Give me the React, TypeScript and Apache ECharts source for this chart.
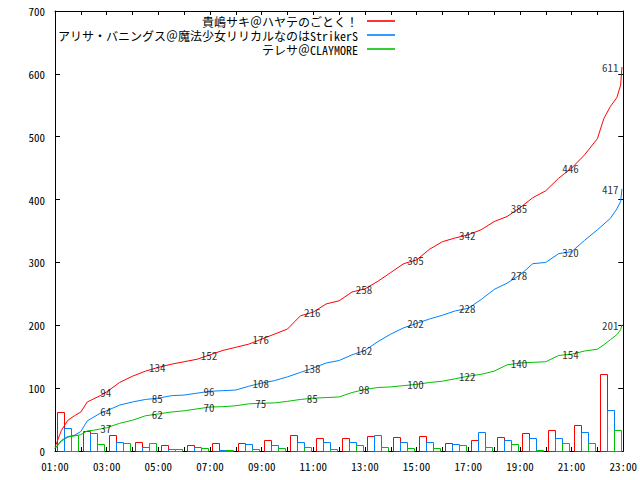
import React, { useEffect, useRef } from "react";
import * as echarts from "echarts";

// ---- data ----
const seriesNames = [
  "貴嶋サキ＠ハヤテのごとく！",
  "アリサ・バニングス＠魔法少女リリカルなのはStrikerS",
  "テレサ＠CLAYMORE",
];

// sample times (hours) for the cumulative lines
const times = [
  1, 1.25, 1.5, 1.75, 2, 2.25, 2.5, 2.75, 3,
  3.5, 4, 4.5, 5, 5.5, 6, 6.5, 7, 7.5, 8, 8.5, 9, 9.5, 10, 10.5, 11, 11.5, 12,
  12.5, 13, 13.5, 14, 14.5, 15, 15.5, 16, 16.5, 17, 17.5, 18, 18.5, 19, 19.5,
  20, 20.5, 21, 21.5, 22,
  22.25, 22.5, 22.75, 22.9, 22.95,
];

const redLine = [
  6, 33, 49, 56, 62, 78, 83, 88, 94,
  109, 119, 127, 133, 138, 142, 146, 153, 160, 165, 170, 178, 186, 194, 215, 221, 234, 239,
  253, 258, 270, 284, 298, 304, 321, 333, 339, 344, 352, 365, 373, 387, 403,
  414, 434, 450, 471, 497,
  529, 548, 562, 582, 611,
];
const blueLine = [
  4, 17, 23, 25, 31, 48, 54, 60, 64,
  73, 78, 82, 84, 88, 89, 92, 95, 96, 97, 103, 108, 112, 118, 125, 132, 140, 144,
  153, 160, 174, 186, 196, 203, 210, 216, 223, 227, 241, 257, 267, 280, 298,
  300, 314, 317, 335, 352,
  361, 370, 385, 397, 417,
];
const greenLine = [
  4, 16, 22, 24, 26, 32, 33, 35, 37,
  44, 49, 56, 59, 62, 64, 67, 70, 70.5, 72, 75, 76, 76.5, 79, 82, 84, 85, 86,
  93, 98, 101, 102, 104, 106, 109, 111, 115, 119, 122, 127, 137, 140, 141,
  142, 152, 154, 159, 162,
  169, 177, 185, 193, 201,
];

// hourly counts (bars), one group per hour, centred on each half hour
const barHours = [
  1.5, 2.5, 3.5, 4.5, 5.5, 6.5, 7.5, 8.5, 9.5, 10.5, 11.5,
  12.5, 13.5, 14.5, 15.5, 16.5, 17.5, 18.5, 19.5, 20.5, 21.5, 22.5,
];
const redBars = [62, 32, 25, 14, 9, 9, 12, 13, 17, 25, 20, 20, 24, 22, 24, 12, 18, 23, 28, 33, 41, 122];
const blueBars = [36, 28, 14, 6, 3, 6, 2, 11, 9, 14, 14, 14, 25, 14, 14, 11, 31, 18, 20, 20, 30, 66];
const greenBars = [25, 11, 13, 12, 3, 4, 2, 3, 4, 6, 3, 9, 6, 4, 4, 9, 6, 11, 1, 12, 12, 34];

// value labels on the lines
const labelHours = [3, 5, 7, 9, 11, 13, 15, 17, 19, 21, 22.95];
const redLabels = ["94", "134", "152", "176", "216", "258", "305", "342", "385", "446", "611"];
const blueLabels = ["64", "85", "96", "108", "138", "162", "202", "228", "278", "320", "417"];
const greenLabels = ["37", "62", "70", "75", "85", "98", "100", "122", "140", "154", "201"];

// x tick labels
const xTickHours = [1, 3, 5, 7, 9, 11, 13, 15, 17, 19, 21, 23];
const xTickLabels = ["01:00", "03:00", "05:00", "07:00", "09:00", "11:00", "13:00", "15:00", "17:00", "19:00", "21:00", "23:00"];

// ---- styles ----
const COLORS = ["#ff0000", "#0080ff", "#00c000"];
const FONT = '"Noto Sans Mono CJK JP", "Noto Sans CJK JP", monospace';
const BAR_OFFSETS = [-10.5, -3.5, 3.5];
const BAR_W = 7;

function buildOption() {
  const lines = [redLine, blueLine, greenLine];
  const bars = [redBars, blueBars, greenBars];
  const labels = [redLabels, blueLabels, greenLabels];

  const axisLine = { show: true, onZero: false, lineStyle: { color: "#000", width: 1 } };

  const lineSeries = lines.map((vals, i) => ({
    type: "line",
    name: seriesNames[i],
    data: times.map((t, j) => [t, vals[j]]),
    symbol: "none",
    showSymbol: false,
    color: COLORS[i],
    lineStyle: { color: COLORS[i], width: 1 },
    itemStyle: { color: COLORS[i] },
    z: 3,
    silent: true,
  }));

  const barSeries = bars.map((vals, i) => ({
    type: "custom",
    name: "bars" + i,
    data: barHours.map((h, j) => [h, vals[j]]),
    encode: { x: 0, y: 1 },
    z: 2,
    silent: true,
    renderItem: (params: any, api: any) => {
      const h = api.value(0);
      const v = api.value(1);
      const base = api.coord([h, 0]);
      const top = api.coord([h, v]);
      const x0 = Math.round(base[0] + BAR_OFFSETS[i]) + 0.5;
      const yTop = Math.round(top[1]) + 0.5;
      const yBot = Math.round(base[1]) + 0.5;
      return {
        type: "rect",
        shape: { x: x0, y: yTop, width: BAR_W, height: yBot - yTop },
        style: { fill: "none", stroke: COLORS[i], lineWidth: 1 },
      };
    },
  }));

  const labelSeries = labels.map((texts, i) => ({
    type: "scatter",
    name: "labels" + i,
    symbol: "circle",
    symbolSize: 1,
    itemStyle: { color: "rgba(0,0,0,0)" },
    silent: true,
    z: 5,
    data: labelHours.map((h, k) => {
      const v = lines[i][times.indexOf(h)];
      const last = k === labelHours.length - 1;
      return {
        value: [h, v, texts[k]],
        label: last ? { position: "left", distance: 3 } : { position: "inside", offset: [-1, 0] },
      };
    }),
    label: {
      show: true,
      color: "#000",
      fontFamily: FONT,
      fontSize: 11,
      lineHeight: 11,
      formatter: (p: any) => p.value[2],
    },
  }));

  const legends = seriesNames.map((n, i) => ({
    data: [{ name: n, itemStyle: { color: COLORS[i] } }],
    right: 245,
    top: 15 + Math.round(i * 14.2),
    orient: "horizontal",
    align: "right",
    icon: "rect",
    itemWidth: 28,
    itemHeight: 1.6,
    itemGap: 0,
    padding: 0,
    selectedMode: false,
    textStyle: {
      fontFamily: FONT,
      fontSize: 12,
      lineHeight: 12,
      color: "#000",
      padding: [0, 4, 0, 0],
    },
  }));

  return {
    animation: false,
    backgroundColor: "#fff",
    textStyle: { fontFamily: FONT },
    grid: { left: 55, right: 13, top: 11, bottom: 29, containLabel: false },
    legend: legends,
    xAxis: [
      {
        type: "value",
        min: 1,
        max: 23,
        interval: 1,
        position: "bottom",
        axisLine,
        axisTick: { show: true, inside: true, length: 4, lineStyle: { color: "#000" } },
        axisLabel: {
          show: true,
          margin: 9,
          color: "#000",
          fontSize: 11,
          lineHeight: 11,
          fontFamily: FONT,
          showMinLabel: true,
          showMaxLabel: true,
          formatter: (v: number) => {
            const k = xTickHours.indexOf(v);
            return k >= 0 ? xTickLabels[k] : "";
          },
        },
        splitLine: { show: false },
      },
      {
        type: "value",
        min: 1,
        max: 23,
        interval: 1,
        position: "top",
        axisLine,
        axisTick: { show: true, inside: true, length: 4, lineStyle: { color: "#000" } },
        axisLabel: { show: false },
        splitLine: { show: false },
      },
    ],
    yAxis: [
      {
        type: "value",
        min: 0,
        max: 700,
        interval: 100,
        position: "left",
        axisLine,
        axisTick: { show: true, inside: true, length: 5, lineStyle: { color: "#000" } },
        axisLabel: { show: true, margin: 10, color: "#000", fontSize: 11, lineHeight: 11, fontFamily: FONT },
        splitLine: { show: false },
      },
      {
        type: "value",
        min: 0,
        max: 700,
        interval: 100,
        position: "right",
        axisLine,
        axisTick: { show: true, inside: true, length: 5, lineStyle: { color: "#000" } },
        axisLabel: { show: false },
        splitLine: { show: false },
      },
    ],
    series: [...barSeries, ...lineSeries, ...labelSeries],
  };
}

export default function App() {
  const ref = useRef<HTMLDivElement>(null);
  useEffect(() => {
    if (!ref.current) return;
    const chart = echarts.init(ref.current, null, { renderer: "svg" });
    chart.setOption(buildOption() as any);
    return () => chart.dispose();
  }, []);
  return (
    <div
      ref={ref}
      style={{ position: "fixed", left: 0, top: 0, width: 640, height: 480, background: "#fff" }}
    />
  );
}
